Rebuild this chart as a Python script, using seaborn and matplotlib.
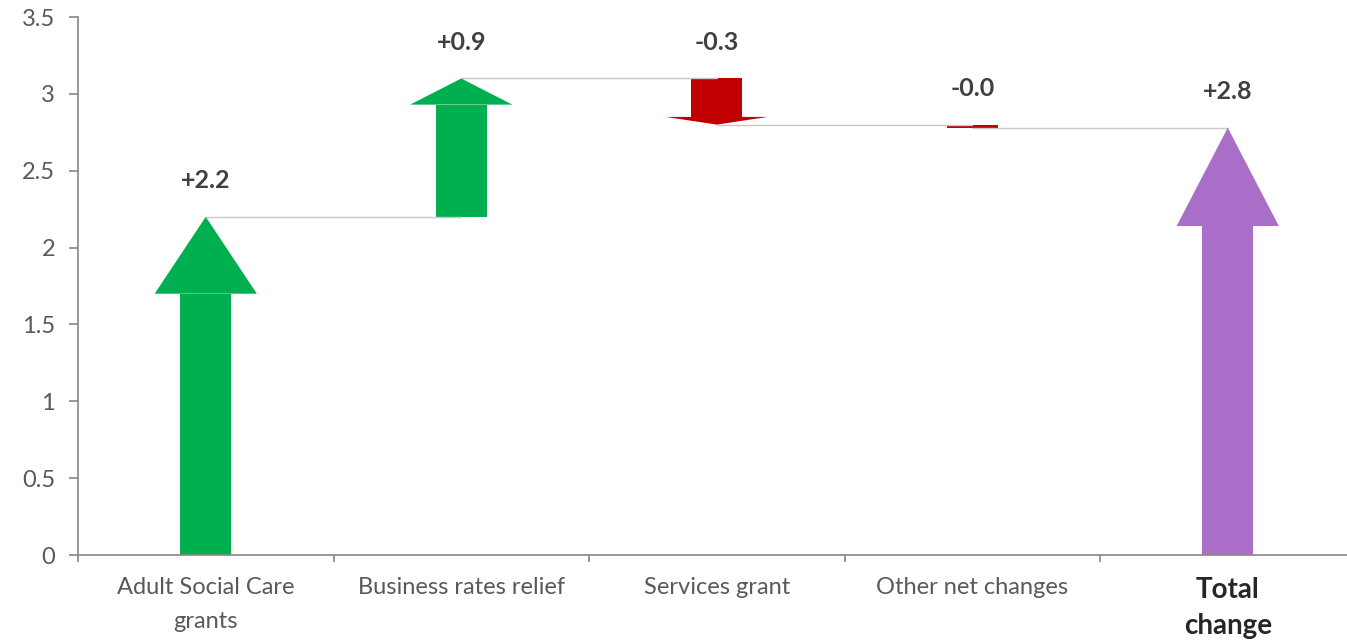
import matplotlib
matplotlib.use("Agg")
import matplotlib.pyplot as plt
import seaborn as sns
import numpy as np
import pandas as pd

# change in spending power, £bn
categories = ["Adult Social Care\ngrants", "Business rates relief", "Services grant",
              "Other net changes", "Total\nchange"]
changes = [2.2, 0.9, -0.3, -0.02]
total = sum(changes)
labels = [f"{v:+.1f}" for v in changes + [total]]
y_ticks = [0, 0.5, 1, 1.5, 2, 2.5, 3, 3.5]

# arrow styling (head length in data units)
colors = ["#00b050", "#00b050", "#c00000", "#c00000", "#a96ec8"]
head_len = [0.5, 0.17, 0.05, 0.0, 0.64]
shaft_w = 0.2
head_half = 0.2

starts = list(np.concatenate([[0], np.cumsum(changes)[:-1]])) + [0]
ends = list(np.cumsum(changes)) + [total]

shaft_lo, shaft_hi = [], []
for s, e, h in zip(starts, ends, head_len):
    if e >= s:
        shaft_lo.append(s)
        shaft_hi.append(e - h)
    else:
        shaft_lo.append(e + h)
        shaft_hi.append(s)

df = pd.DataFrame({"category": categories,
                   "bottom": shaft_lo,
                   "height": np.array(shaft_hi) - np.array(shaft_lo)})

sns.set_style("white")
plt.rcParams["font.family"] = ["Lato", "DejaVu Sans"]

fig = plt.figure(figsize=(13.47, 6.4), dpi=100)
ax = fig.add_axes([78 / 1347, 85 / 640, 1277.5 / 1347, 538 / 640])

sns.barplot(data=df, x="category", y="height", bottom=df["bottom"],
            width=shaft_w, linewidth=0, color="gray", ax=ax)
for patch, c in zip(ax.patches, colors):
    patch.set_facecolor(c)
    patch.set_edgecolor(c)

# arrow heads
for i, (s, e, h, c) in enumerate(zip(starts, ends, head_len, colors)):
    base = e - h if e >= s else e + h
    if h > 0:
        ax.fill([i - head_half, i + head_half, i], [base, base, e],
                color=c, linewidth=0, zorder=3)

# connector lines
for i in range(len(changes)):
    ax.plot([i, i + 1], [ends[i], ends[i]], color="#c8c8c8", lw=1, zorder=1)

# value labels
for i, (s, e, lab) in enumerate(zip(starts, ends, labels)):
    ax.annotate(lab, (i, max(s, e)), xytext=(0, 36), textcoords="offset pixels",
                ha="center", va="center", fontsize=18, fontweight="bold",
                color="#404040")

ax.set_xlim(-0.5, len(categories) - 0.5)
ax.set_ylim(0, 3.5)
ax.set_yticks(y_ticks)
ax.set_yticklabels([f"{t:g}" for t in y_ticks])
ax.set_xticks(range(len(categories)))
ax.set_xticklabels(categories)
ax.set_xticks(np.arange(-0.5, len(categories)), minor=True)
ax.set_xlabel("")
ax.set_ylabel("")

for side in ["top", "right"]:
    ax.spines[side].set_visible(False)
for side in ["left", "bottom"]:
    ax.spines[side].set_color("#868686")
    ax.spines[side].set_linewidth(1.2)

ax.tick_params(axis="y", left=True, length=6.5, width=1.2, color="#868686",
               labelsize=17, labelcolor="#595959", pad=10)
ax.tick_params(axis="x", which="major", length=0, labelsize=17,
               labelcolor="#595959", pad=16)
ax.tick_params(axis="x", which="minor", bottom=True, length=5, width=1.2,
               color="#868686")

for tl in ax.get_xticklabels():
    tl.set_linespacing(1.76)
tl = ax.get_xticklabels()[-1]
tl.set_fontweight("bold")
tl.set_fontsize(20)
tl.set_color("#262626")
tl.set_linespacing(1.45)

fig.savefig("out.png", dpi=100)
